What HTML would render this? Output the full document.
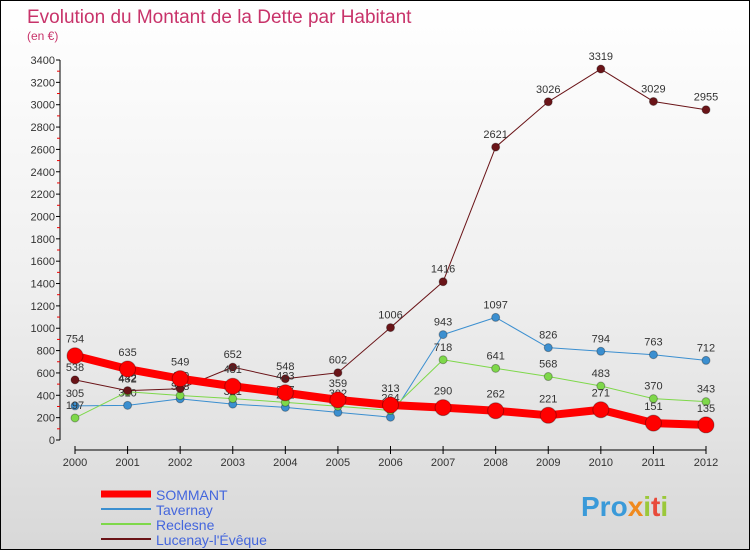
<!DOCTYPE html>
<html><head><meta charset="utf-8"><style>
body{margin:0}
#c{width:748px;height:548px;border:1px solid #000;background:linear-gradient(#fff 0%,#f0f0f0 50%,#d8d8d8 100%);position:relative;font-family:"Liberation Sans",sans-serif}
text{font-family:"Liberation Sans",sans-serif}
</style></head><body>
<div id="c">
<svg id="s" width="748" height="548">
<text x="26" y="22" font-size="19" fill="#c8336a">Evolution du Montant de la Dette par Habitant</text>
<text x="26" y="39" font-size="12" fill="#c8336a">(en €)</text>
<text x="580" y="515" font-size="28" font-weight="bold" fill="#3a9ad9">Pro<tspan fill="#f08a1e">x</tspan><tspan fill="#9bc83a">i</tspan><tspan fill="#e84a3a">t</tspan><tspan fill="#9bc83a">i</tspan></text>
</svg></div>
<script>
const years=[2000,2001,2002,2003,2004,2005,2006,2007,2008,2009,2010,2011,2012];
const sommant=[754,635,549,481,423,359,313,290,262,221,271,151,135];
const tavernay=[305,310,368,321,292,247,204,943,1097,826,794,763,712];
const reclesne=[197,432,398,370,337,302,264,718,641,568,483,370,343];
const lucenay=[538,442,459,652,548,602,1006,1416,2621,3026,3319,3029,2955];
const yTicks=[0,200,400,600,800,1000,1200,1400,1600,1800,2000,2200,2400,2600,2800,3000,3200,3400];
const NS='http://www.w3.org/2000/svg',svg=document.getElementById('s');
const X=i=>74+i*(705-74)/(years.length-1);
const Y=v=>439-v*(439-59)/3400;
function el(t,a,p){const e=document.createElementNS(NS,t);for(const k in a)e.setAttribute(k,a[k]);(p||svg).appendChild(e);return e;}
let ax=el('line',{x1:59,y1:59,x2:59,y2:439,stroke:'#000'});


yTicks.forEach((v,i)=>{
 el('line',{x1:55,x2:59,y1:Y(v),y2:Y(v),stroke:'#000'});
 if(i<yTicks.length-1)el('line',{x1:56,x2:59,y1:Y(v+100),y2:Y(v+100),stroke:'#e00'});
 let t=el('text',{x:54,y:Y(v)+4,'font-size':11,fill:'#333','text-anchor':'end'});t.textContent=v;
 
 
});
let xa=el('line',{x1:74,y1:449,x2:705,y2:449,stroke:'#000'});


years.forEach((y,i)=>{
 el('line',{x1:X(i),x2:X(i),y1:445,y2:453,stroke:'#000'});
 let t=el('text',{x:X(i),y:465,'font-size':11,fill:'#333','text-anchor':'middle'});t.textContent=y;
 
 
});
function series(d,c,w,r,name){
 const g=el('g',{});
 
 
 el('polyline',{points:d.map((v,i)=>X(i)+','+Y(v)).join(' '),fill:'none',stroke:c,'stroke-width':w,'stroke-linejoin':'round'},g);
 d.forEach((v,i)=>{
  const p=el('circle',{cx:X(i),cy:Y(v),r:r,fill:c,stroke:'rgba(0,0,0,0.3)'},g);
  
  
  const t=el('text',{x:X(i),y:Y(v)-9-(r>5?4:0),'font-size':11,fill:'#333','text-anchor':'middle'},g);t.textContent=v;
 });
}
series(tavernay,'#3b8fd0',1,4,'tavernay');
series(reclesne,'#7ed84a',1,4,'reclesne');
series(lucenay,'#6a1418',1,4,'lucenay');
series(sommant,'#ff0000',8,8,'sommant');
const leg=[['SOMMANT','#ff0000',7],['Tavernay','#3b8fd0',2],['Reclesne','#7ed84a',2],['Lucenay-l\'Évêque','#6a1418',2]];
leg.forEach((l,i)=>{
 const y=493+i*15;
 const g=el('g',{});
 
 
 el('line',{x1:100,x2:150,y1:y,y2:y,stroke:l[1],'stroke-width':l[2]},g);
 const t=el('text',{x:155,y:y+6,'font-size':14,fill:'#4466dd'},g);t.textContent=l[0];
});
</script>
</body></html>
